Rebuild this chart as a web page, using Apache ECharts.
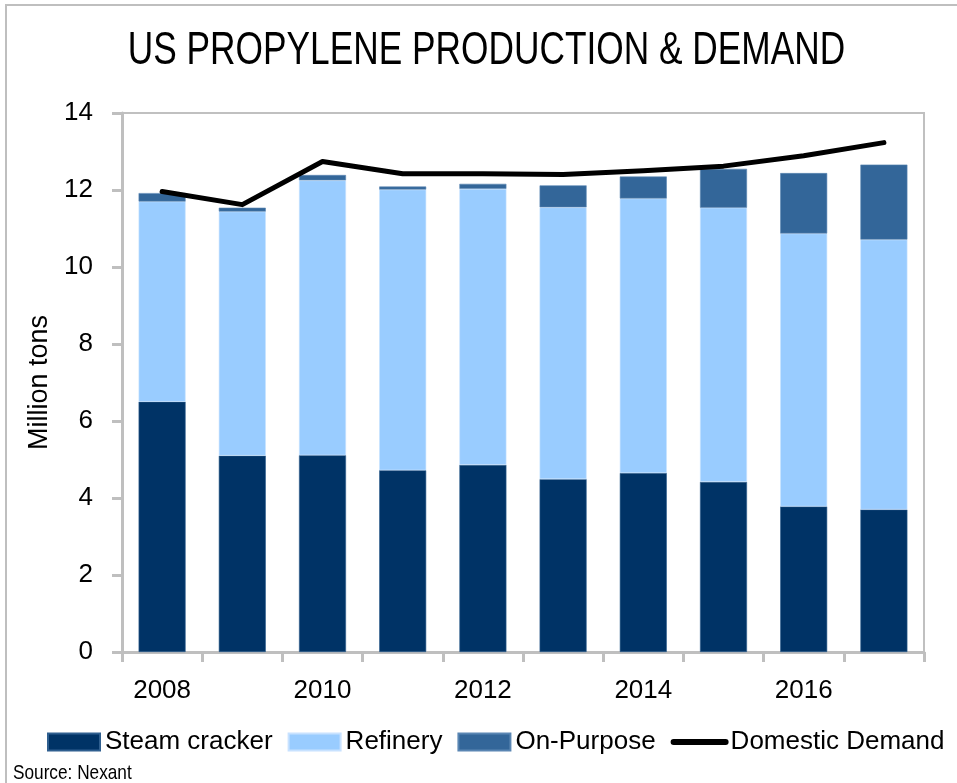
<!DOCTYPE html>
<html>
<head>
<meta charset="utf-8">
<script src="https://cdn.jsdelivr.net/npm/echarts@6/dist/echarts.min.js"></script>
<style>html,body{margin:0;padding:0;background:#fff}#c{width:957px;height:783px}</style>
</head>
<body>
<div id="c"></div>
<script>
const categories = ['2008','2009','2010','2011','2012','2013','2014','2015','2016','2017'];
const steamCracker = [6.50, 5.10, 5.11, 4.72, 4.86, 4.49, 4.65, 4.42, 3.78, 3.70];
const refinery     = [5.20, 6.34, 7.14, 7.29, 7.17, 7.06, 7.13, 7.12, 7.09, 7.01];
const onPurpose    = [0.22, 0.10, 0.14, 0.08, 0.13, 0.57, 0.57, 1.01, 1.57, 1.95];
const domesticDemand = [11.96, 11.62, 12.74, 12.42, 12.42, 12.40, 12.50, 12.62, 12.89, 13.23];
const yTicks = [0, 14, 2];

const FONT = '"Liberation Sans", Arial, sans-serif';
const chart = echarts.init(document.getElementById('c'), null, {renderer: 'canvas'});
chart.setOption({
  animation: false,
  backgroundColor: '#fff',
  graphic: [
    {type: 'rect', shape: {x: 6, y: 5, width: 1000, height: 900}, style: {fill: 'none', stroke: '#bfbfbf', lineWidth: 2}, silent: true, z: -10},
    {type: 'text', x: 486.5, y: 51, scaleX: 0.767,
     style: {text: 'US PROPYLENE PRODUCTION & DEMAND', font: '46px ' + FONT, fill: '#000', textAlign: 'center', textVerticalAlign: 'middle'}},
    {type: 'text', x: 13, y: 773, scaleX: 0.82,
     style: {text: 'Source: Nexant', font: '21px ' + FONT, fill: '#000', textAlign: 'left', textVerticalAlign: 'middle'}}
  ],
  grid: {left: 122, right: 33, top: 113, bottom: 131, show: true, borderColor: '#c0c0c0', borderWidth: 2, backgroundColor: 'transparent'},
  legend: {
    left: 47, top: 729, width: 910, padding: 0,
    itemWidth: 52, itemHeight: 17, itemGap: 15,
    textStyle: {fontFamily: FONT, fontSize: 26, color: '#000'},
    data: [
      {name: 'Steam cracker', icon: 'rect'},
      {name: 'Refinery', icon: 'rect'},
      {name: 'On-Purpose', icon: 'rect'},
      {name: 'Domestic Demand', itemStyle: {opacity: 0}, lineStyle: {width: 6, color: '#000', cap: 'round'}}
    ]
  },
  xAxis: {
    type: 'category', data: categories, boundaryGap: true,
    axisLine: {show: true, lineStyle: {color: '#bfbfbf', width: 3}},
    axisTick: {show: true, alignWithLabel: false, interval: 0, length: 10, lineStyle: {color: '#bfbfbf', width: 3}},
    axisLabel: {interval: 1, margin: 26, fontFamily: FONT, fontSize: 26, color: '#000'},
    splitLine: {show: false}
  },
  yAxis: {
    type: 'value', min: yTicks[0], max: yTicks[1], interval: yTicks[2],
    name: 'Million tons', nameLocation: 'middle', nameGap: 68, nameRotate: 90,
    nameTextStyle: {fontFamily: FONT, fontSize: 27, color: '#000'},
    axisLine: {show: true, lineStyle: {color: '#bfbfbf', width: 3}},
    axisTick: {show: true, length: 10, lineStyle: {color: '#bfbfbf', width: 3}},
    axisLabel: {margin: 29, fontFamily: FONT, fontSize: 26, color: '#000'},
    splitLine: {show: false}
  },
  series: [
    {name: 'Steam cracker', type: 'bar', stack: 'p', data: steamCracker, barWidth: 47,
     itemStyle: {color: '#003366', borderColor: '#2f5f8f', borderWidth: 0.6}},
    {name: 'Refinery', type: 'bar', stack: 'p', data: refinery, barWidth: 47,
     itemStyle: {color: '#99ccff', borderColor: '#c8e2ff', borderWidth: 0.6}},
    {name: 'On-Purpose', type: 'bar', stack: 'p', data: onPurpose, barWidth: 47,
     itemStyle: {color: '#336699', borderColor: '#5a86b3', borderWidth: 0.6}},
    {name: 'Domestic Demand', type: 'line', data: domesticDemand, symbol: 'none',
     lineStyle: {color: '#000', width: 5, cap: 'round', join: 'round'},
     itemStyle: {color: '#000'}, z: 5}
  ]
});
</script>
</body>
</html>
